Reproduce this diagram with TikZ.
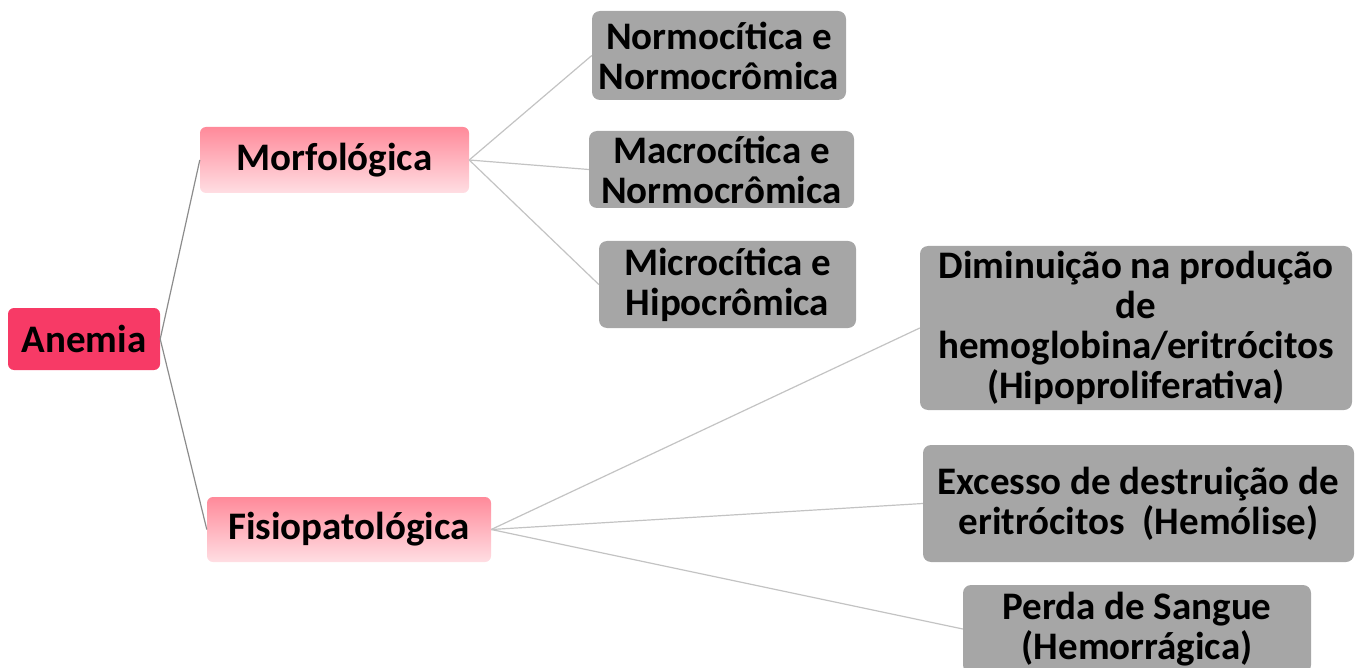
\documentclass[tikz,border=0pt]{standalone}
\usepackage{fontspec}
\setmainfont{Carlito}
\begin{document}
\begin{tikzpicture}[x=1pt,y=-1pt,
  every node/.style={font=\bfseries\fontsize{39}{40}\selectfont, align=center, inner sep=0pt, text=black},
  rootbox/.style={rectangle, rounded corners=6pt, fill={rgb,255:red,247;green,58;blue,102}},
  catbox/.style={rectangle, rounded corners=6pt, top color={rgb,255:red,255;green,138;blue,154}, bottom color={rgb,255:red,255;green,222;blue,227}},
  leafbox/.style={rectangle, rounded corners=8pt, fill={rgb,255:red,166;green,166;blue,166}},
  rootlink/.style={draw={rgb,255:red,140;green,140;blue,140}, line width=1.2pt},
  link/.style={draw={rgb,255:red,195;green,195;blue,195}, line width=1.2pt}]
\useasboundingbox (0,0) rectangle (1362,668);

% root
\node[rootbox, minimum width=152pt, minimum height=62pt] (anemia) at (84,339) {Anemia};

% categories
\node[catbox, minimum width=269pt, minimum height=66pt] (morf) at (334.5,160) {Morfológica};
\node[catbox, minimum width=284pt, minimum height=65pt] (fisio) at (349,529.5) {Fisiopatológica};

% morphological leaves
\node[leafbox, minimum width=254pt, minimum height=89pt] (normo) at (719,55.5) {Normocítica e\\Normocrômica};
\node[leafbox, minimum width=265pt, minimum height=77pt] (macro) at (721.5,169.5) {Macrocítica e\\Normocrômica};
\node[leafbox, minimum width=257pt, minimum height=87pt] (micro) at (727.5,284.5) {Microcítica e\\Hipocrômica};

% pathophysiological leaves
\node[leafbox, minimum width=432pt, minimum height=164pt] (dimin) at (1136,328) {Diminuição na produção\\de\\hemoglobina/eritrócitos\\(Hipoproliferativa)};
\node[leafbox, minimum width=431pt, minimum height=117pt] (exces) at (1138.5,503.5) {Excesso de destruição de\\eritrócitos\ \ (Hemólise)};
\node[leafbox, minimum width=348pt, minimum height=88pt] (perda) at (1137,629) {Perda de Sangue\\(Hemorrágica)};

% connectors
\draw[rootlink] (anemia.east) -- (morf.west);
\draw[rootlink] (anemia.east) -- (fisio.west);
\draw[link] (morf.east) -- (normo.west);
\draw[link] (morf.east) -- (macro.west);
\draw[link] (morf.east) -- (micro.west);
\draw[link] (fisio.east) -- (dimin.west);
\draw[link] (fisio.east) -- (exces.west);
\draw[link] (fisio.east) -- (perda.west);
\end{tikzpicture}
\end{document}
